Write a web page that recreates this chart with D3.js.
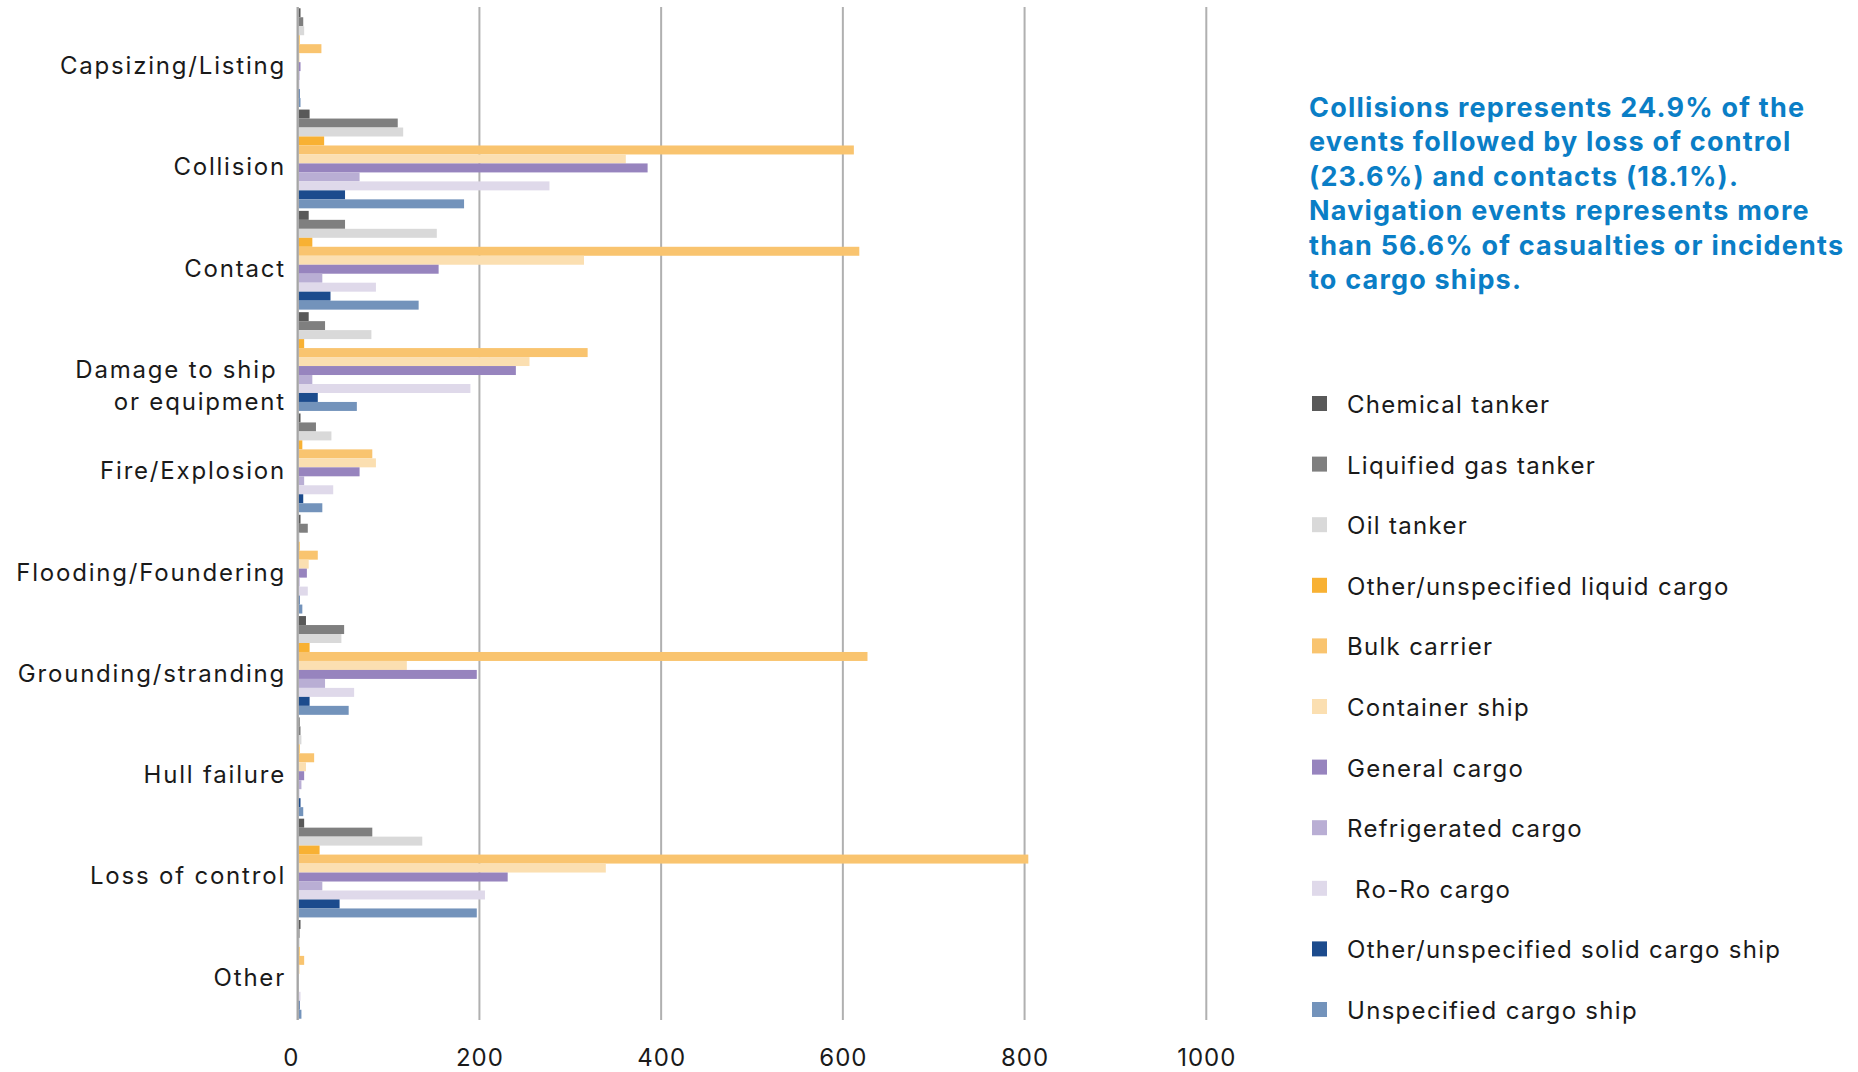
<!DOCTYPE html>
<html>
<head>
<meta charset="utf-8">
<script src="https://cdn.jsdelivr.net/npm/d3@7"></script>
<style>
  html, body { margin: 0; padding: 0; background: #fff; }
  svg { display: block; }
  text { font-family: Inter, "Open Sans", sans-serif; }
</style>
</head>
<body>
<svg id="chart" width="1858" height="1072"></svg>
<script>
// ---------- DATA ----------
const categories = [
  ["Capsizing/Listing"],
  ["Collision"],
  ["Contact"],
  ["Damage to ship ", "or equipment"],
  ["Fire/Explosion"],
  ["Flooding/Foundering"],
  ["Grounding/stranding"],
  ["Hull failure"],
  ["Loss of control"],
  ["Other"]
];
const seriesNames = [
  "Chemical tanker",
  "Liquified gas tanker",
  "Oil tanker",
  "Other/unspecified liquid cargo",
  "Bulk carrier",
  "Container ship",
  "General cargo",
  "Refrigerated cargo",
  " Ro-Ro cargo",
  "Other/unspecified solid cargo ship",
  "Unspecified cargo ship"
];
const chemicalTanker      = [2, 12, 11, 11, 2, 2, 8, 1, 6, 2];
const liquifiedGasTanker  = [5, 109, 51, 29, 19, 10, 50, 2, 81, 1];
const oilTanker           = [6, 115, 152, 80, 36, 1, 47, 3, 136, 1];
const otherLiquidCargo    = [1, 28, 15, 6, 4, 1, 12, 1, 23, 1];
const bulkCarrier         = [25, 611, 617, 318, 81, 21, 626, 17, 803, 6];
const containerShip       = [1, 360, 314, 254, 85, 11, 119, 8, 338, 1];
const generalCargo        = [2, 384, 154, 239, 67, 9, 196, 6, 230, 0];
const refrigeratedCargo   = [1, 67, 26, 15, 6, 1, 29, 3, 26, 0];
const roRoCargo           = [1, 276, 85, 189, 38, 10, 61, 1, 205, 2];
const otherSolidCargo     = [1, 51, 35, 21, 5, 1, 12, 2, 45, 1];
const unspecifiedCargo    = [2, 182, 132, 64, 26, 4, 55, 5, 196, 3];
const seriesValues = [chemicalTanker, liquifiedGasTanker, oilTanker, otherLiquidCargo,
  bulkCarrier, containerShip, generalCargo, refrigeratedCargo, roRoCargo,
  otherSolidCargo, unspecifiedCargo];
const seriesColors = ["#595959", "#7f7f7f", "#d9d9d9", "#f8b133", "#f9c46f",
  "#fbdfb1", "#9784be", "#b9aed4", "#dfd9ea", "#1c4b8d", "#7393bb"];
const tickValues = [0, 200, 400, 600, 800, 1000];
const annotationLines = [
  "Collisions represents 24.9% of the",
  "events followed by loss of control",
  "(23.6%) and contacts (18.1%).",
  "Navigation events represents more",
  "than 56.6% of casualties or incidents",
  "to cargo ships."
];

// ---------- LAYOUT ----------
const svg = d3.select("#chart");
const plot = { left: 297.7, right: 1206.3, top: 7, bottom: 1020 };

const x = d3.scaleLinear().domain([0, 1000]).range([plot.left, plot.right]);
const y0 = d3.scaleBand().domain(d3.range(categories.length))
  .range([plot.top, plot.bottom]).paddingInner(0.025).paddingOuter(0.0125);
const y1 = d3.scaleBand().domain(d3.range(seriesNames.length))
  .range([0, y0.bandwidth()]);

// gridlines
svg.append("g").selectAll("line").data(tickValues).join("line")
  .attr("x1", d => x(d)).attr("x2", d => x(d))
  .attr("y1", plot.top).attr("y2", plot.bottom)
  .attr("stroke", "#b0b0b0").attr("stroke-width", 2);

// bars
const groups = svg.append("g").selectAll("g").data(categories).join("g")
  .attr("transform", (d, i) => `translate(0,${y0(i)})`);
groups.selectAll("rect")
  .data((d, i) => seriesValues.map((vals, s) => ({ s, v: vals[i] })))
  .join("rect")
  .attr("x", x(0) + 1)
  .attr("y", d => y1(d.s))
  .attr("width", d => Math.max(0, x(d.v) - x(0)))
  .attr("height", y1.bandwidth())
  .attr("fill", d => seriesColors[d.s]);

// axis line over bars
svg.append("line")
  .attr("x1", x(0)).attr("x2", x(0))
  .attr("y1", plot.top).attr("y2", plot.bottom)
  .attr("stroke", "#a6a6a6").attr("stroke-width", 2);

// x axis labels
const xAxis = d3.axisBottom(x).tickValues(tickValues).tickSize(0).tickPadding(0)
  .tickFormat(d3.format("d"));
const xg = svg.append("g").attr("transform", `translate(0,${plot.bottom})`).call(xAxis);
xg.select(".domain").remove();
xg.selectAll("text")
  .attr("y", 38).attr("dy", "0.35em")
  .attr("font-size", 24).attr("fill", "#1a1a1a")
  .style("font-family", "Inter, sans-serif")
  .style("letter-spacing", "1px")
  .attr("dx", d => d === 0 ? -7 : 0);

// category labels
const catG = svg.append("g");
categories.forEach((lines, i) => {
  const cy = y0(i) + y0.bandwidth() / 2 + 8;
  const t = catG.append("text")
    .attr("text-anchor", "end")
    .attr("font-size", 24)
    .attr("fill", "#1a1a1a")
    .style("letter-spacing", "1.8px")
    .style("white-space", "pre");
  lines.forEach((ln, k) => {
    t.append("tspan").attr("x", 286).attr("y", cy + k * 32)
      .attr("dy", "0.35em").text(ln);
  });
});

// annotation
const ann = svg.append("text")
  .attr("font-size", 27).attr("font-weight", 700).attr("fill", "#0a7ec6")
  .style("letter-spacing", "1.2px");
annotationLines.forEach((ln, k) => {
  ann.append("tspan").attr("x", 1309).attr("y", 117 + k * 34.4).text(ln);
});

// legend
const lg = svg.append("g").selectAll("g").data(seriesNames).join("g")
  .attr("transform", (d, i) => `translate(1312,${403.5 + i * 60.6})`);
lg.append("rect").attr("x", 0).attr("y", -7.5).attr("width", 15).attr("height", 15)
  .attr("fill", (d, i) => seriesColors[i]);
lg.append("text").attr("x", 35).attr("y", 1).attr("dy", "0.35em")
  .attr("font-size", 24).attr("fill", "#1a1a1a")
  .style("letter-spacing", "1.3px")
  .style("white-space", "pre")
  .text(d => d);
</script>
</body>
</html>
